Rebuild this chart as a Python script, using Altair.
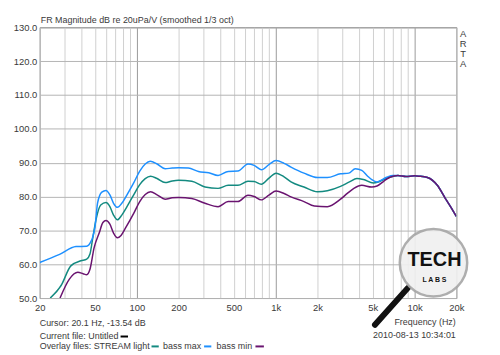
import altair as alt
import pandas as pd

# ---- data ----
max_f = [20, 27.8, 36.5, 43.6, 46.9, 48, 50, 52.2, 56, 60, 64, 68, 72.5, 78, 85, 95, 105, 115, 125, 140, 160, 180, 200, 235, 278, 330, 385, 455, 535, 632, 700, 788, 900, 1006, 1150, 1290, 1600, 2000, 2357, 2932, 3360, 3750, 4170, 4600, 4920, 5370, 6300, 7020]
max_db = [60.5, 62.9, 65.2, 65.3, 66.8, 67.8, 71.0, 78.1, 81.3, 81.8, 80.5, 78.0, 76.8, 78.0, 80.5, 84.0, 87.5, 89.6, 90.4, 89.6, 88.2, 88.4, 88.5, 88.4, 87.4, 87.0, 86.2, 87.4, 87.5, 89.6, 89.2, 87.9, 89.5, 90.6, 89.8, 88.7, 86.9, 85.6, 85.6, 86.7, 86.9, 88.2, 87.7, 86.0, 85.0, 84.3, 85.7, 86.2]

light_f = [23.8, 28.5, 33.5, 39.6, 43.6, 46, 48, 50.8, 55, 60, 64, 68, 72.5, 78, 85, 95, 105, 115, 125.7, 140, 160, 180, 200, 249, 310, 385, 455, 535, 632, 700, 788, 900, 1006, 1150, 1290, 1600, 2000, 2357, 2932, 3400, 3850, 4290, 5050, 5480, 6000, 6650]
light_db = [50.0, 53.7, 59.5, 61.0, 61.5, 63.0, 67.3, 73.1, 77.5, 78.2, 77.0, 74.5, 73.1, 74.5, 77.0, 80.5, 83.5, 85.3, 86.0, 85.3, 84.1, 84.6, 84.8, 84.5, 82.8, 82.4, 83.3, 83.3, 84.5, 84.4, 83.6, 85.5, 86.9, 85.8, 84.3, 82.8, 81.4, 81.7, 83.0, 84.3, 85.3, 85.0, 84.0, 84.3, 85.0, 85.7]

min_f = [28, 32.7, 37.6, 41, 43.6, 46, 49.3, 53.6, 57, 60, 64, 68, 72.5, 77, 83, 95, 105, 115, 125.7, 140, 160, 180, 200, 249, 310, 385, 455, 535, 632, 700, 788, 900, 1006, 1150, 1290, 1600, 1900, 2357, 2932, 3300, 3660, 4170, 4920, 5370, 6000, 6650]
min_db = [50.0, 55.6, 57.6, 57.2, 56.9, 58.5, 64.9, 69.2, 72.3, 72.9, 71.8, 69.2, 67.8, 68.5, 70.7, 75.0, 78.5, 80.6, 81.4, 80.5, 79.2, 79.6, 79.7, 79.4, 78.0, 77.0, 78.5, 78.5, 80.4, 80.0, 79.0, 80.5, 81.6, 80.9, 79.9, 78.5, 77.2, 77.0, 79.2, 81.0, 82.4, 83.3, 82.8, 83.1, 84.5, 85.7]

tail_f = [7600, 8680, 10000, 10800, 12400, 14600, 16700, 18500, 20000]
tail_db = [86.2, 85.9, 86.1, 86.0, 85.6, 83.3, 79.4, 76.5, 74.1]

series = ["STREAM light", "bass max", "bass min"]
colors = ["#138a80", "#1e90ff", "#6a1470"]

x_ticks = [20, 50, 100, 200, 500, 1000, 2000, 5000, 10000, 20000]
x_grid = [20, 30, 40, 50, 60, 70, 80, 90, 100, 200, 300, 400, 500, 600, 700, 800, 900,
          1000, 2000, 3000, 4000, 5000, 6000, 7000, 8000, 9000, 10000, 20000]
y_ticks = [50, 60, 70, 80, 90, 100, 110, 120, 130]

rows = []
for name, fs, ds in [("STREAM light", light_f, light_db), ("bass max", max_f, max_db), ("bass min", min_f, min_db)]:
    for f, d in zip(fs + tail_f, ds + tail_db):
        rows.append({"series": name, "freq": f, "db": d})
df = pd.DataFrame(rows)

FONT = "Liberation Sans"
TXT = "#3a3a3a"
FS = 9.5
FS2 = 9

label_expr = ("indexof([20,50,100,200,500,1000,2000,5000,10000,20000], datum.value) >= 0 ? "
              "(datum.value >= 1000 ? (datum.value/1000) + 'k' : '' + datum.value) : ''")

x_enc = alt.X("freq:Q", scale=alt.Scale(type="log", domain=[20, 20000], nice=False),
              axis=alt.Axis(values=x_grid, labelExpr=label_expr, title=None, ticks=False, domain=False,
                            labelOverlap=False, labelFlush=False, labelPadding=5, labelFontSize=FS,
                            labelFont=FONT, labelColor=TXT,
                            gridColor=alt.condition("datum.value == 100 || datum.value == 1000 || datum.value == 10000",
                                                    alt.value("#9a9a9a"), alt.value("#cfcfcf")),
                            gridWidth=1))
y_enc = alt.Y("db:Q", scale=alt.Scale(domain=[50, 130], nice=False),
              axis=alt.Axis(values=y_ticks, format=".1f", title=None, ticks=False, domain=False,
                            labelPadding=3, labelFontSize=FS, labelFont=FONT, labelColor=TXT,
                            gridColor="#b4b4b4"))

lines = alt.Chart(df).mark_line(interpolate="monotone", strokeWidth=1.5, clip=True).encode(
    x=x_enc, y=y_enc,
    color=alt.Color("series:N", scale=alt.Scale(domain=series, range=colors), legend=None),
    detail="series:N",
)

def txt(text, x, y, align="left", size=FS2, color=TXT, weight="normal", font=FONT):
    return alt.Chart(pd.DataFrame({"t": [text]})).mark_text(
        align=align, baseline="middle", fontSize=size, font=font, color=color, fontWeight=weight
    ).encode(text="t:N", x=alt.value(x), y=alt.value(y))

def dash(x1, x2, y, color):
    return alt.Chart(pd.DataFrame({"a": [0]})).mark_rule(strokeWidth=2, color=color).encode(
        x=alt.value(x1), x2=alt.value(x2), y=alt.value(y))

# logo
circle = alt.Chart(pd.DataFrame({"a": [0]})).mark_point(
    shape="circle", size=4624, filled=True, fill="#f0f0f0", opacity=0.92, stroke="#a8a8a8", strokeWidth=2.5
).encode(x=alt.value(397), y=alt.value(237.5))
handle = alt.Chart(pd.DataFrame({"a": [0]})).mark_rule(strokeWidth=6, color="#111", strokeCap="round").encode(
    x=alt.value(371), x2=alt.value(338), y=alt.value(263), y2=alt.value(300))

layers = [
    lines,
    handle,
    circle,
    txt("TECH", 398, 235, align="center", size=20, color="#111", weight="bold"),
    txt("L  A  B  S", 398, 254.5, align="center", size=7, color="#111", weight="bold"),
    txt("FR Magnitude dB re 20uPa/V (smoothed 1/3 oct)", 1, -7.5, size=9),
    txt("A", 427, 7, align="center", size=FS),
    txt("R", 427, 17, align="center", size=FS),
    txt("T", 427, 27, align="center", size=FS),
    txt("A", 427, 37, align="center", size=FS),
    txt("Cursor: 20.1 Hz, -13.54 dB", 0, 298),
    txt("Current file: Untitled", 0, 311.3),
    dash(81.5, 89, 311.8, "#000"),
    txt("Overlay files: STREAM light", 0, 321.3),
    dash(112.7, 120, 321.8, colors[0]),
    txt("bass max", 124.3, 321.3),
    dash(165.7, 173, 321.8, colors[1]),
    txt("bass min", 178.3, 321.3),
    dash(217.5, 226, 321.8, colors[2]),
    txt("Frequency (Hz)", 419.5, 297.3, align="right"),
    txt("2010-08-13  10:34:01", 419.5, 310.7, align="right"),
]

chart = alt.layer(*layers).properties(
    width=420, height=273,
    autosize=alt.AutoSizeParams(type="none"),
    padding={"left": 32, "top": 18, "right": 36, "bottom": 54},
    background="white",
).configure_view(stroke="#555", strokeWidth=1)

chart.save("out.html", embed_options={"renderer": "svg", "actions": False})
